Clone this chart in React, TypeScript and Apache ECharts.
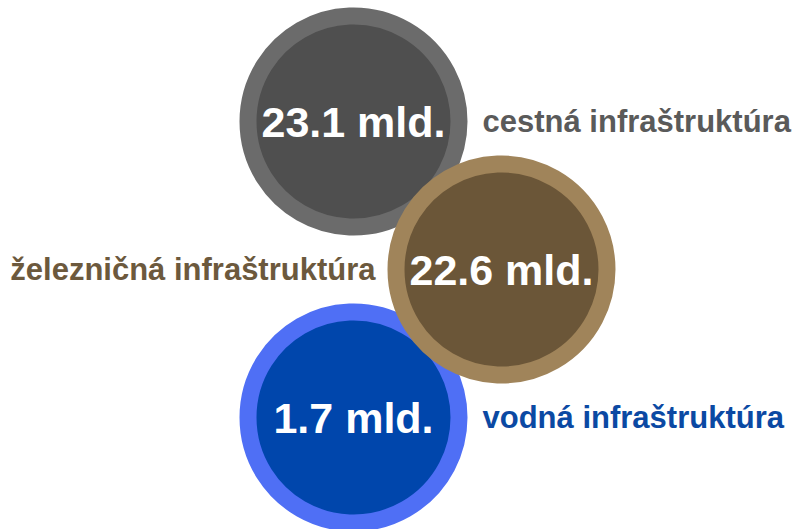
import React, { useEffect, useRef } from "react";
import * as echarts from "echarts";

const categories = ["cestná infraštruktúra", "železničná infraštruktúra", "vodná infraštruktúra"];
const values = [23.1, 22.6, 1.7];
const unit = " mld.";
const ringColors = ["#6b6b6b", "#a0845a", "#4f6ff5"];
const innerColors = ["#4f4f4f", "#6b5638", "#0046ac"];
const textColors = ["#5a5a5a", "#6c593d", "#0b49a3"];
const columns = [0, 1, 0];
const labelSides = ["right", "left", "right"];

export default function App() {
  const ref = useRef<HTMLDivElement>(null);
  useEffect(() => {
    document.body.style.margin = "0";
    const chart = echarts.init(ref.current!, undefined, { renderer: "svg" });
    const font = "'Liberation Sans', Arial, sans-serif";
    const order = [0, 2, 1];
    const circleData = order.map((i) => ({
      value: [columns[i], i],
      name: categories[i],
      itemStyle: { color: innerColors[i], borderColor: ringColors[i], borderWidth: 17, opacity: 1 },
      label: {
        show: true,
        position: "inside",
        formatter: values[i].toFixed(1) + unit,
        color: "#ffffff",
        opacity: 1,
        fontSize: 43,
        fontWeight: "bold",
        fontFamily: font,
      },
    }));
    const labelData = categories.map((c, i) => ({
      value: [columns[i], i],
      name: c,
      label: {
        show: true,
        position: labelSides[i],
        distance: labelSides[i] === "left" ? 12 : 15,
        formatter: c,
        color: textColors[i],
        opacity: 1,
        fontSize: 31,
        fontWeight: "bold",
        fontFamily: font,
      },
    }));
    chart.setOption({
      animation: false,
      backgroundColor: "#ffffff",
      grid: { left: 205.5, top: 121.5, width: 296, height: 296, outerBoundsMode: "none" },
      xAxis: { type: "value", min: -1, max: 1, show: false },
      yAxis: { type: "value", min: 0, max: 2, inverse: true, show: false },
      series: [
        {
          type: "scatter",
          symbol: "circle",
          symbolSize: 211,
          clip: false,
          silent: true,
          itemStyle: { opacity: 1 },
          data: circleData,
        },
        {
          type: "scatter",
          symbol: "circle",
          symbolSize: 228,
          clip: false,
          silent: true,
          itemStyle: { color: "rgba(0,0,0,0)", opacity: 1 },
          data: labelData,
        },
      ],
    });
    return () => chart.dispose();
  }, []);
  return <div ref={ref} style={{ width: 792, height: 529 }} />;
}
